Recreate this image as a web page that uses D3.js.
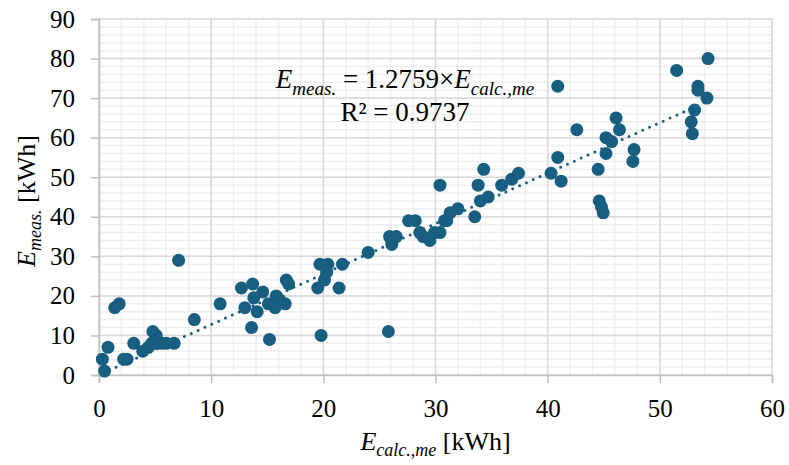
<!DOCTYPE html>
<html>
<head>
<meta charset="utf-8">
<script src="https://cdn.jsdelivr.net/npm/d3@7"></script>
<style>
    body { margin: 0; background: #fff; }
    svg text { font-family: "Liberation Serif", "Times New Roman", serif; fill: #000; }
</style>
</head>
<body>
<svg id="scatter" width="789" height="465"></svg>
<script>
// E_calc.,me [kWh] and E_meas. [kWh]
var calcValues = [0.3, 0.5, 0.8, 1.4, 1.8, 2.2, 2.5, 3.1, 3.9, 4.4, 4.8, 5.1, 4.7, 5.1, 5.6, 6.0, 6.7, 7.1, 8.5, 10.8,
    12.7, 13.0, 13.6, 13.7, 13.8, 14.1, 14.6, 15.1, 15.2, 15.8, 15.7, 16.1, 16.6, 16.7, 16.9, 19.5, 19.7, 20.1, 20.3, 20.4,
    19.8, 21.4, 21.7, 24.0, 25.8, 25.9, 26.1, 26.5, 27.6, 28.2, 28.6, 28.9, 29.5, 29.9, 30.4, 30.8, 30.4, 31.0, 31.3, 32.0,
    33.5, 33.8, 34.0, 34.3, 34.7, 35.9, 36.8, 37.4, 40.3, 40.9, 40.9, 41.2, 42.6, 44.5, 44.6, 44.8, 44.95, 45.2, 45.2, 45.7,
    46.1, 46.4, 47.6, 47.7, 51.5, 52.8, 52.9, 53.1, 53.4, 53.4, 54.2, 54.3];
var measValues = [4, 1, 7, 17, 18, 4, 4, 8, 6, 7, 11, 10, 8, 8, 8, 8, 8, 29, 14, 18,
    22, 17, 12, 23, 19.5, 16, 21, 18, 9, 20, 17, 19, 18, 24, 23, 22, 28, 24, 26, 28,
    10, 22, 28, 31, 11, 35, 33, 35, 39, 39, 36, 35, 34, 36, 36, 39, 48, 39, 41, 42,
    40, 48, 44, 52, 45, 48, 49.5, 51, 51, 55, 73, 49, 62, 52, 44, 42.5, 41, 56, 60, 59,
    65, 62, 54, 57, 77, 64, 61, 67, 73, 72, 70, 80];
var xTicks = [0, 10, 20, 30, 40, 50, 60];
var yTicks = [0, 10, 20, 30, 40, 50, 60, 70, 80, 90];
var slope = 1.2759;
var rSquared = "0.9737";

(function () {
    'use strict';

    var vm = {};
    vm.color = "#175e80";

    drawChart();

    function drawChart() {
        vm.data = calcValues.map(function (c, i) {
            return {calc: c, meas: measValues[i]};
        });

        createSvg();
        setUpScales();
        drawGrid();
        drawAxes();
        drawTrend();
        drawPoints();
        drawLabels();
    }

    function createSvg() {
        vm.svg = d3.select("svg#scatter");
        vm.margin = {top: 19, right: 17, bottom: 90, left: 99};
        vm.width = 789 - vm.margin.left - vm.margin.right;
        vm.height = 465 - vm.margin.top - vm.margin.bottom;
        vm.g = vm.svg.append("g").attr("transform", "translate(" + vm.margin.left + "," + vm.margin.top + ")");
    }

    function setUpScales() {
        vm.x = d3.scaleLinear().domain([0, 60]).range([0, vm.width]);
        vm.y = d3.scaleLinear().domain([0, 90]).range([vm.height, 0]);
    }

    function drawGrid() {
        // minor grid every 2 kWh
        var minor = vm.g.append("g").attr("class", "grid grid--minor");
        minor.selectAll("line.v")
            .data(d3.range(0, 61, 2))
            .enter().append("line")
            .attr("class", "v")
            .attr("x1", vm.x).attr("x2", vm.x)
            .attr("y1", 0).attr("y2", vm.height)
            .attr("stroke", "#efefef").attr("stroke-width", 1.5);
        minor.selectAll("line.h")
            .data(d3.range(0, 91, 2))
            .enter().append("line")
            .attr("class", "h")
            .attr("x1", 0).attr("x2", vm.width)
            .attr("y1", vm.y).attr("y2", vm.y)
            .attr("stroke", "#efefef").attr("stroke-width", 1.5);

        var major = vm.g.append("g").attr("class", "grid grid--major");
        major.selectAll("line.v")
            .data(xTicks)
            .enter().append("line")
            .attr("class", "v")
            .attr("x1", vm.x).attr("x2", vm.x)
            .attr("y1", 0).attr("y2", vm.height)
            .attr("stroke", "#d9d9d9").attr("stroke-width", 1.5);
        major.selectAll("line.h")
            .data(yTicks)
            .enter().append("line")
            .attr("class", "h")
            .attr("x1", 0).attr("x2", vm.width)
            .attr("y1", vm.y).attr("y2", vm.y)
            .attr("stroke", "#d9d9d9").attr("stroke-width", 1.5);
    }

    function drawAxes() {
        var xAxis = vm.g.append("g")
            .attr("class", "axis axis--x")
            .attr("transform", "translate(0," + vm.height + ")")
            .call(d3.axisBottom(vm.x).tickValues(xTicks).tickSizeOuter(0).tickSize(8).tickPadding(16));

        var yAxis = vm.g.append("g")
            .attr("class", "axis axis--y")
            .call(d3.axisLeft(vm.y).tickValues(yTicks).tickSizeOuter(0).tickSize(8).tickPadding(16));

        [xAxis, yAxis].forEach(function (a) {
            a.attr("font-family", null).attr("font-size", null);
            a.selectAll("path.domain").attr("stroke", "#bfbfbf").attr("stroke-width", 1.5);
            a.selectAll(".tick line").attr("stroke", "#bfbfbf").attr("stroke-width", 1.5);
            a.selectAll(".tick text")
                .style("font-size", "25px")
                .attr("fill", "#000");
        });
    }

    function drawTrend() {
        var ext = d3.extent(calcValues);
        vm.g.append("line")
            .attr("class", "trend")
            .attr("x1", vm.x(ext[0])).attr("y1", vm.y(slope * ext[0]))
            .attr("x2", vm.x(ext[1])).attr("y2", vm.y(slope * ext[1]))
            .attr("stroke", vm.color)
            .attr("stroke-width", 3)
            .attr("stroke-linecap", "round")
            .attr("stroke-dasharray", "0,7.5");
    }

    function drawPoints() {
        vm.g.selectAll(".dot")
            .data(vm.data)
            .enter().append("circle")
            .attr("class", "dot")
            .attr("cx", function (d) {
                return vm.x(d.calc);
            })
            .attr("cy", function (d) {
                return vm.y(d.meas);
            })
            .attr("r", 6.5)
            .attr("fill", vm.color);
    }

    function drawLabels() {
        var eq = vm.svg.append("text")
            .attr("x", 405).attr("y", 88)
            .attr("text-anchor", "middle")
            .style("font-size", "27px");
        eq.append("tspan").style("font-style", "italic").text("E");
        eq.append("tspan").style("font-style", "italic").style("font-size", "19px").attr("dy", 7).text("meas.");
        eq.append("tspan").attr("dy", -7).text(" = 1.2759\u00d7");
        eq.append("tspan").style("font-style", "italic").text("E");
        eq.append("tspan").style("font-style", "italic").style("font-size", "19px").attr("dy", 7).text("calc.,me");

        vm.svg.append("text")
            .attr("x", 405).attr("y", 121)
            .attr("text-anchor", "middle")
            .style("font-size", "27px")
            .text("R\u00b2 = " + rSquared);

        var xt = vm.svg.append("text")
            .attr("x", vm.margin.left + vm.width / 2).attr("y", 450)
            .attr("text-anchor", "middle")
            .style("font-size", "26px");
        xt.append("tspan").style("font-style", "italic").text("E");
        xt.append("tspan").style("font-style", "italic").style("font-size", "18px").attr("dy", 6).text("calc.,me");
        xt.append("tspan").attr("dy", -6).text(" [kWh]");

        var yt = vm.svg.append("text")
            .attr("transform", "translate(35,201) rotate(-90)")
            .attr("text-anchor", "middle")
            .style("font-size", "26px");
        yt.append("tspan").style("font-style", "italic").text("E");
        yt.append("tspan").style("font-style", "italic").style("font-size", "18px").attr("dy", 6).text("meas.");
        yt.append("tspan").attr("dy", -6).text(" [kWh]");
    }

})();
</script>
</body>
</html>
